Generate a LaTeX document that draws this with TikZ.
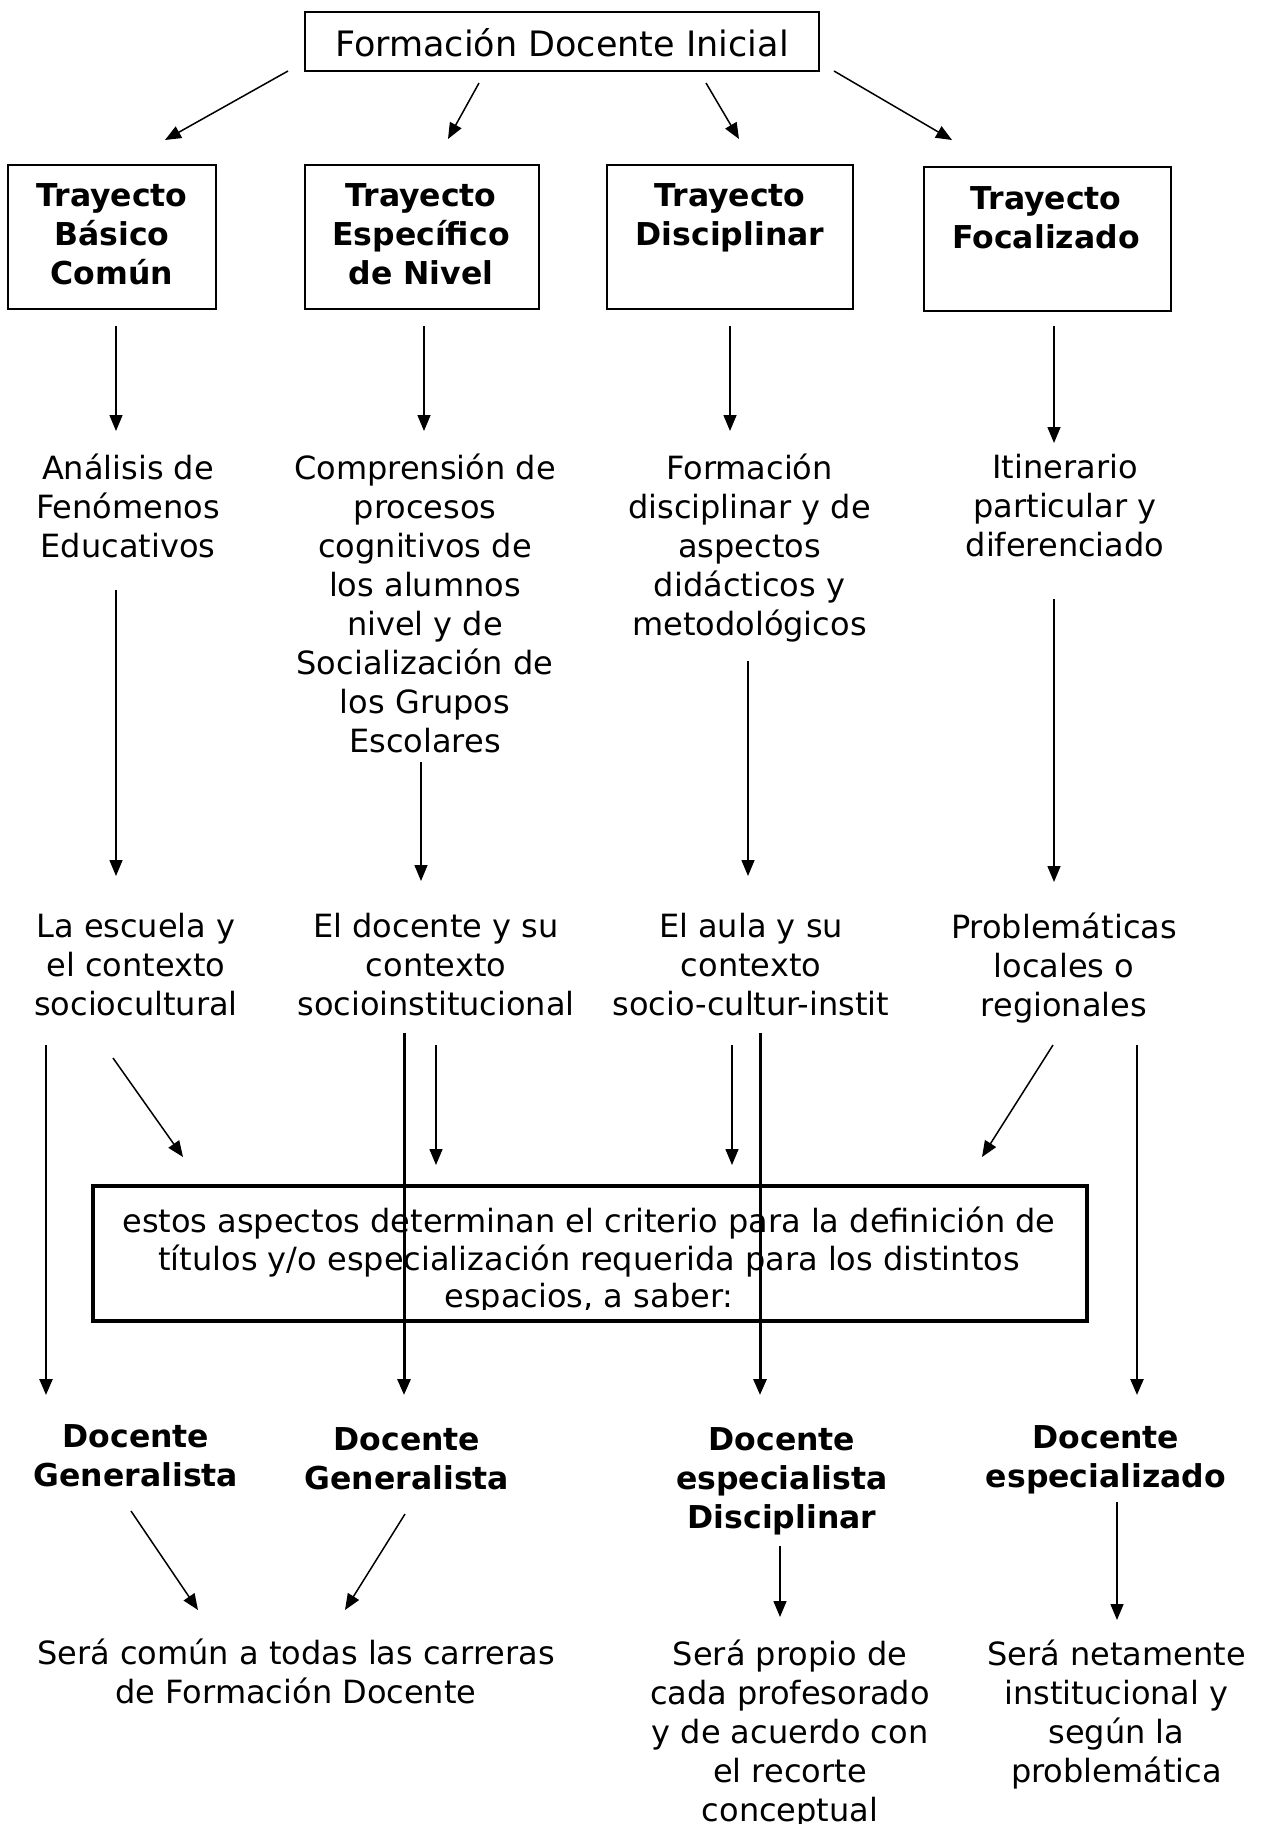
\documentclass[tikz,border=0pt]{standalone}
\usepackage{fontspec}
\setmainfont{DejaVu Sans}
\usetikzlibrary{arrows.meta}
\tikzset{
  tbox/.style={draw, line width=2pt, inner sep=0pt},
  txt/.style={align=center, inner sep=0pt, font=\fontsize{32}{39}\selectfont,
    execute at begin node=\strut, execute at end node=\strut},
  btxt/.style={align=center, inner sep=0pt, font=\fontsize{31.5}{39}\selectfont\bfseries,
    execute at begin node=\strut, execute at end node=\strut},
  arr/.style={line width=1.5pt, -{Triangle[length=16pt,width=13pt]}},
  longarr/.style={line width=2.5pt, -{Triangle[length=16pt,width=13pt]}},
  thickarr/.style={line width=3pt, -{Triangle[length=16pt,width=13pt]}},
}
\begin{document}
\begin{tikzpicture}[x=1pt,y=-1pt]
\useasboundingbox[fill=white] (0,0) rectangle (1265,1824);

% top box
\node[tbox, minimum width=514pt, minimum height=59pt] (top) at (562,41) {};
\node[inner sep=0pt, font=\fontsize{35}{42}\selectfont] (toptext) at (562,43) {Formación Docente Inicial};

% trayecto boxes
\node[tbox, minimum width=208pt, minimum height=144pt] (b1) at (112,237) {};
\node[tbox, minimum width=234pt, minimum height=144pt] (b2) at (422,237) {};
\node[tbox, minimum width=246pt, minimum height=144pt] (b3) at (730,237) {};
\node[tbox, minimum width=247pt, minimum height=144pt] (b4) at (1047.5,239) {};
\node[btxt] (t1) at (112,240) {Trayecto\\Básico\\Común};
\node[btxt] (t2) at (421,240) {Trayecto\\Específico\\de Nivel};
\node[btxt] (t3) at (730,220) {Trayecto\\Disciplinar};
\node[btxt] (t4) at (1046,223) {Trayecto\\Focalizado};

% level 2
\node[txt] (a1) at (128,511.5) {Análisis de\\Fenómenos\\Educativos};
\node[txt] (a2) at (425,609) {Comprensión de\\procesos\\cognitivos de\\los alumnos\\nivel y de\\Socialización de\\los Grupos\\Escolares};
\node[txt] (a3) at (749.5,550.5) {Formación\\disciplinar y de\\aspectos\\didácticos y\\metodológicos};
\node[txt] (a4) at (1065,511.5) {Itinerario\\particular y\\diferenciado};

% level 3
\node[txt] (c1) at (136,970.5) {La escuela y\\el contexto\\sociocultural};
\node[txt] (c2) at (436,970.5) {El docente y su\\contexto\\socioinstitucional};
\node[txt] (c3) at (751,970.5) {El aula y su\\contexto\\socio-cultur-instit};
\node[txt] (c4) at (1064,970.5) {Problemáticas\\locales o\\regionales};

% middle box
\node[draw, line width=3.5pt, fill=white, minimum width=994pt, minimum height=135pt] (mid) at (590,1253.5) {};
\begin{scope}
  \clip (93,1186) rectangle (1087,1309);
  \node[align=center, inner sep=0pt, font=\fontsize{32}{37.5}\selectfont,
    execute at begin node=\strut, execute at end node=\strut] (midtext) at (589,1263)
    {estos aspectos determinan el criterio para la definición de\\títulos y/o especialización requerida para los distintos\\espacios, a saber:};
\end{scope}

% level 4
\node[btxt] (d1) at (136,1461) {Docente\\Generalista};
\node[btxt] (d2) at (407,1464.5) {Docente\\Generalista};
\node[btxt] (d3) at (782,1484) {Docente\\especialista\\Disciplinar};
\node[btxt] (d4) at (1106,1462.5) {Docente\\especializado};

% level 5
\node[txt] (e1) at (296,1677.5) {Será común a todas las carreras\\de Formación Docente};
\node[txt] (e2) at (790,1736.5) {Será propio de\\cada profesorado\\y de acuerdo con\\el recorte\\conceptual};
\node[txt] (e3) at (1116.5,1717) {Será netamente\\institucional y\\según la\\problemática};

% connector end points
\coordinate (p1s) at (288,71);   \coordinate (p1e) at (165,140);
\coordinate (p2s) at (479,83);   \coordinate (p2e) at (448,139);
\coordinate (p3s) at (706,83);   \coordinate (p3e) at (739,139);
\coordinate (p4s) at (834,71);   \coordinate (p4e) at (952,140);

\coordinate (q1s) at (116,326);  \coordinate (q1e) at (116,431);
\coordinate (q2s) at (424,326);  \coordinate (q2e) at (424,431);
\coordinate (q3s) at (730,326);  \coordinate (q3e) at (730,431);
\coordinate (q4s) at (1054,326); \coordinate (q4e) at (1054,443);

\coordinate (r1s) at (116,590);  \coordinate (r1e) at (116,876);
\coordinate (r2s) at (421,762);  \coordinate (r2e) at (421,881);
\coordinate (r3s) at (748,661);  \coordinate (r3e) at (748,876);
\coordinate (r4s) at (1054,599); \coordinate (r4e) at (1054,882);

\coordinate (l1s) at (46,1045);   \coordinate (l1e) at (46,1395);
\coordinate (g1s) at (113,1058);  \coordinate (g1e) at (183,1157);
\coordinate (l2s) at (404,1033);  \coordinate (l2e) at (404,1395);
\coordinate (h2s) at (436,1045);  \coordinate (h2e) at (436,1165);
\coordinate (h3s) at (732,1045);  \coordinate (h3e) at (732,1165);
\coordinate (l3s) at (760,1033);  \coordinate (l3e) at (760,1395);
\coordinate (g4s) at (1053,1045); \coordinate (g4e) at (982,1157);
\coordinate (l4s) at (1137,1045); \coordinate (l4e) at (1137,1395);

\coordinate (s1s) at (131,1511); \coordinate (s1e) at (198,1610);
\coordinate (s2s) at (405,1514); \coordinate (s2e) at (345,1610);
\coordinate (s3s) at (780,1546); \coordinate (s3e) at (780,1617);
\coordinate (s4s) at (1117,1502); \coordinate (s4e) at (1117,1620);

% connectors
\draw[arr] (p1s) -- (p1e);
\draw[arr] (p2s) -- (p2e);
\draw[arr] (p3s) -- (p3e);
\draw[arr] (p4s) -- (p4e);

\draw[arr] (q1s) -- (q1e);
\draw[arr] (q2s) -- (q2e);
\draw[arr] (q3s) -- (q3e);
\draw[arr] (q4s) -- (q4e);

\draw[arr] (r1s) -- (r1e);
\draw[arr] (r2s) -- (r2e);
\draw[arr] (r3s) -- (r3e);
\draw[arr] (r4s) -- (r4e);

\draw[longarr] (l1s) -- (l1e);
\draw[arr] (g1s) -- (g1e);
\draw[thickarr] (l2s) -- (l2e);
\draw[arr] (h2s) -- (h2e);
\draw[arr] (h3s) -- (h3e);
\draw[thickarr] (l3s) -- (l3e);
\draw[arr] (g4s) -- (g4e);
\draw[longarr] (l4s) -- (l4e);

\draw[arr] (s1s) -- (s1e);
\draw[arr] (s2s) -- (s2e);
\draw[arr] (s3s) -- (s3e);
\draw[arr] (s4s) -- (s4e);
\end{tikzpicture}
\end{document}
